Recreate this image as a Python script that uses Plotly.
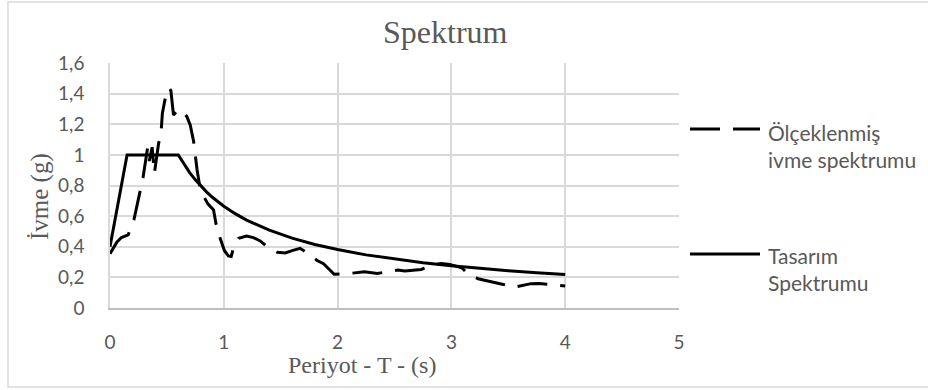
import plotly.graph_objects as go

# Scaled acceleration spectrum (dashed)
t_scaled = [0, 0.03, 0.06, 0.10, 0.16, 0.21, 0.265, 0.29, 0.33, 0.345,
            0.37, 0.39, 0.425, 0.45, 0.46, 0.50, 0.52, 0.535, 0.558, 0.572,
            0.60, 0.645, 0.675, 0.705, 0.735, 0.765, 0.79, 0.81, 0.86, 0.91,
            0.93, 0.97, 1.006, 1.04, 1.065, 1.09, 1.13, 1.2, 1.26, 1.32,
            1.38, 1.47, 1.54, 1.6, 1.67, 1.765, 1.82, 1.876, 1.93, 1.97,
            2.1, 2.235, 2.35, 2.44, 2.53, 2.59, 2.66, 2.735, 2.82, 2.91,
            2.985, 3.09, 3.15, 3.235, 3.32, 3.39, 3.456, 3.544, 3.62, 3.7,
            3.77, 3.84, 3.92, 4.0]
sa_scaled = [0.354, 0.39, 0.43, 0.46, 0.478, 0.576, 0.76, 0.85, 1.044, 0.96,
             1.05, 0.88, 1.065, 1.16, 1.27, 1.426, 1.435, 1.42, 1.26, 1.27,
             1.296, 1.28, 1.25, 1.195, 1.087, 0.903, 0.79, 0.747, 0.68, 0.64,
             0.555, 0.45, 0.374, 0.34, 0.336, 0.406, 0.455, 0.47, 0.46, 0.438,
             0.40, 0.364, 0.36, 0.375, 0.39, 0.343, 0.31, 0.289, 0.25, 0.22,
             0.225, 0.237, 0.226, 0.235, 0.248, 0.241, 0.245, 0.252, 0.278, 0.291,
             0.285, 0.263, 0.22, 0.191, 0.176, 0.165, 0.154, 0.135, 0.148, 0.159,
             0.16, 0.157, 0.15, 0.143]

# Design spectrum (solid)
t_design = [0, 0.15, 0.6, 0.65, 0.7, 0.75, 0.8, 0.85, 0.9, 1.0, 1.1, 1.2, 1.4,
            1.6, 1.8, 2.0, 2.25, 2.5, 2.75, 3.0, 3.25, 3.5, 3.75, 4.0]
sa_design = [0.4, 1.0, 1.0, 0.938, 0.884, 0.837, 0.794, 0.757, 0.723, 0.665,
             0.616, 0.574, 0.508, 0.456, 0.415, 0.382, 0.347, 0.319, 0.296,
             0.276, 0.259, 0.244, 0.231, 0.219]

x_ticks = [0, 1, 2, 3, 4, 5]
y_ticks = [0, 0.2, 0.4, 0.6, 0.8, 1.0, 1.2, 1.4, 1.6]
y_tick_labels = ["0", "0,2", "0,4", "0,6", "0,8", "1", "1,2", "1,4", "1,6"]

name_scaled = "Ölçeklenmiş<br>ivme spektrumu"
name_design = "Tasarım<br>Spektrumu"

TXT = "#595959"
GRID = "#d9d9d9"
SANS = "Lato, 'Open Sans', sans-serif"
SERIF = "'Liberation Serif', 'Times New Roman', serif"
DASH = "30px,13px"

fig = go.Figure()
fig.add_trace(go.Scatter(x=t_scaled, y=sa_scaled, mode="lines", name=name_scaled,
                         line=dict(color="black", width=3, dash=DASH),
                         showlegend=False))
fig.add_trace(go.Scatter(x=t_design, y=sa_design, mode="lines", name=name_design,
                         line=dict(color="black", width=3),
                         showlegend=False))

W, H = 928, 390
L, R, T, B = 110, 249, 63, 82
pw, ph = W - L - R, H - T - B


def px(x):
    return (x - L) / pw


def py(y):
    return (H - B - y) / ph


fig.update_layout(
    width=W, height=H,
    margin=dict(l=L, r=R, t=T, b=B),
    paper_bgcolor="white", plot_bgcolor="white",
    showlegend=False,
    xaxis=dict(range=[0, 5], tickvals=x_ticks, showgrid=True, gridcolor=GRID,
               gridwidth=1.5, zeroline=False, showline=True, linecolor="#bfbfbf",
               linewidth=1.5, ticks="", ticklabelstandoff=16,
               tickfont=dict(family=SANS, size=19, color=TXT)),
    yaxis=dict(range=[0, 1.6], tickvals=y_ticks, ticktext=y_tick_labels,
               showgrid=True, gridcolor=GRID, gridwidth=1.5, zeroline=False,
               showline=True, linecolor=GRID, linewidth=1.5, ticks="",
               ticklabelstandoff=20,
               tickfont=dict(family=SANS, size=19, color=TXT)),
)

annotations = [
    dict(text="Spektrum", x=px(445), y=py(32), xref="paper", yref="paper",
         xanchor="center", yanchor="middle", showarrow=False,
         font=dict(family=SERIF, size=32, color=TXT)),
    dict(text="Periyot - T - (s)", x=px(362), y=py(365), xref="paper", yref="paper",
         xanchor="center", yanchor="middle", showarrow=False,
         font=dict(family=SERIF, size=24, color=TXT)),
    dict(text="İvme (g)", x=px(40), y=py(197), xref="paper", yref="paper",
         xanchor="center", yanchor="middle", showarrow=False, textangle=-90,
         font=dict(family=SERIF, size=25, color=TXT)),
    dict(text=name_scaled, x=px(766), y=py(146), xref="paper", yref="paper",
         xanchor="left", yanchor="middle", align="left", showarrow=False,
         font=dict(family=SANS, size=21, color=TXT)),
    dict(text=name_design, x=px(766), y=py(269), xref="paper", yref="paper",
         xanchor="left", yanchor="middle", align="left", showarrow=False,
         font=dict(family=SANS, size=21, color=TXT)),
]

shapes = [
    dict(type="rect", xref="paper", yref="paper", x0=px(8), x1=px(932),
         y0=py(387), y1=py(2), line=dict(color=GRID, width=1.5), layer="below"),
    dict(type="line", xref="paper", yref="paper", x0=px(690), x1=px(760),
         y0=py(129), y1=py(129), line=dict(color="black", width=3, dash=DASH)),
    dict(type="line", xref="paper", yref="paper", x0=px(690), x1=px(760),
         y0=py(254), y1=py(254), line=dict(color="black", width=3)),
]

fig.update_layout(annotations=annotations, shapes=shapes)
fig.write_html(
    "out.html",
    config={"displayModeBar": False},
    post_script="document.body.style.margin='0';document.body.style.overflow='hidden';",
)
